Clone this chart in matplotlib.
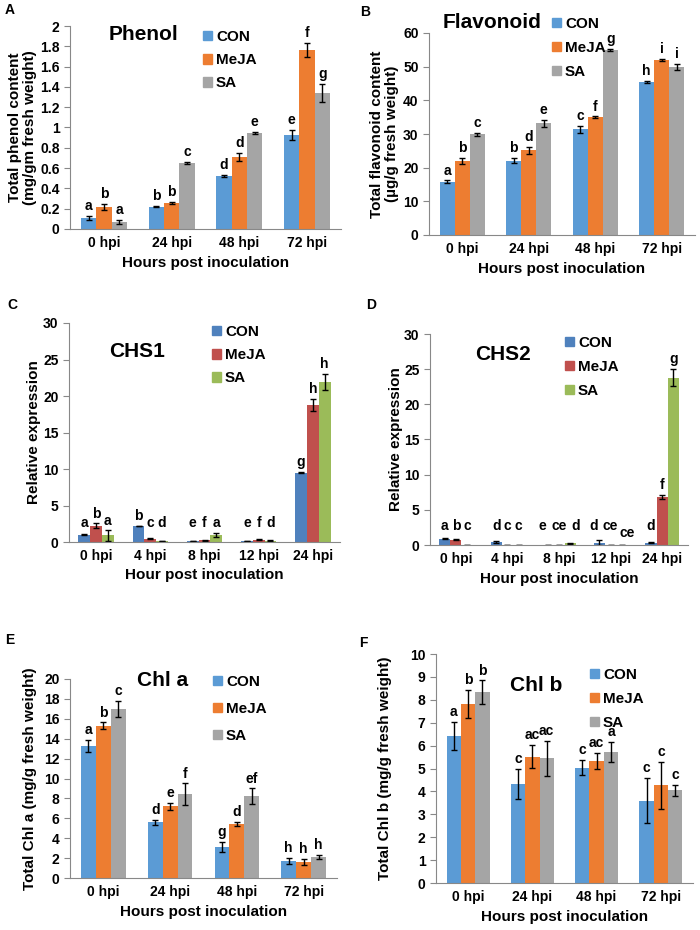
import numpy as np
import matplotlib.pyplot as plt
from matplotlib.ticker import FuncFormatter, MultipleLocator
from matplotlib.patches import Patch

plt.rcParams['font.family'] = ['Liberation Sans', 'DejaVu Sans']
plt.rcParams['font.weight'] = 'bold'

treatments = ["CON", "MeJA", "SA"]
hpi4 = ["0 hpi", "24 hpi", "48 hpi", "72 hpi"]
hpi5 = ["0 hpi", "4 hpi", "8 hpi", "12 hpi", "24 hpi"]

# A - phenol
phenol_mean = [[0.11, 0.22, 0.52, 0.93], [0.22, 0.26, 0.71, 1.76], [0.07, 0.65, 0.95, 1.34]]
phenol_err = [[0.02, 0.005, 0.01, 0.05], [0.03, 0.01, 0.04, 0.07], [0.02, 0.01, 0.01, 0.09]]
phenol_let = [["a", "b", "d", "e"], ["b", "b", "d", "f"], ["a", "c", "e", "g"]]

# B - flavonoid
flav_mean = [[15.8, 22.1, 31.4, 45.5], [22.0, 25.2, 35.0, 52.0], [29.9, 33.2, 55.0, 50.0]]
flav_err = [[0.4, 0.8, 1.1, 0.3], [0.8, 1.0, 0.2, 0.2], [0.5, 1.0, 0.2, 0.9]]
flav_let = [["a", "b", "c", "h"], ["b", "d", "f", "i"], ["c", "e", "g", "i"]]

# C - CHS1
chs1_mean = [[1.0, 2.2, 0.1, 0.1, 9.5], [2.2, 0.45, 0.25, 0.3, 18.8], [0.9, 0.15, 0.95, 0.2, 21.9]]
chs1_err = [[0.1, 0.05, 0.02, 0.02, 0.1], [0.35, 0.05, 0.05, 0.05, 0.8], [0.7, 0.03, 0.25, 0.05, 1.1]]
chs1_let = [["a", "b", "e", "e", "g"], ["b", "c", "f", "f", "h"], ["a", "d", "a", "d", "h"]]

# D - CHS2
chs2_mean = [[0.9, 0.45, 0.02, 0.35, 0.35], [0.75, 0.05, 0.05, 0.05, 6.8], [0.05, 0.05, 0.25, 0.03, 23.8]]
chs2_err = [[0.1, 0.1, 0.01, 0.3, 0.1], [0.1, 0.02, 0.02, 0.02, 0.3], [0.02, 0.02, 0.05, 0.02, 1.2]]
chs2_let = [["a", "d", "e", "d", "d"], ["b", "c", "ce", "ce", "f"], ["c", "c", "d", "ce", "g"]]

# E - Chl a
chla_mean = [[13.3, 5.6, 3.1, 1.7], [15.3, 7.2, 5.45, 1.65], [17.0, 8.4, 8.2, 2.15]]
chla_err = [[0.6, 0.25, 0.5, 0.3], [0.35, 0.35, 0.2, 0.3], [0.8, 1.1, 0.8, 0.2]]
chla_let = [["a", "d", "g", "h"], ["b", "e", "d", "h"], ["c", "f", "ef", "h"]]

# F - Chl b
chlb_mean = [[6.42, 4.33, 5.03, 3.6], [7.82, 5.52, 5.33, 4.26], [8.33, 5.44, 5.72, 4.05]]
chlb_err = [[0.6, 0.67, 0.33, 0.98], [0.62, 0.5, 0.35, 1.04], [0.52, 0.78, 0.45, 0.25]]
chlb_let = [["a", "c", "c", "c"], ["b", "ac", "ac", "c"], ["b", "ac", "a", "c"]]

office = ["#5B9BD5", "#ED7D31", "#A5A5A5"]
classic = ["#4F81BD", "#C0504D", "#9BBB59"]

W, H = 700, 930
fig = plt.figure(figsize=(7, 9.3), dpi=100)


def make_ax(left, top, right, bottom):
    # pixel box -> figure fraction
    return fig.add_axes([left / W, 1 - bottom / H, (right - left) / W, (bottom - top) / H])


def draw_panel(ax, cats, means, errs, lets, colors, ymax, step, ylabel, xlabel,
               group=0.67, floor=0.0, lab_x=-0.12, shifts=None):
    shifts = shifts or {}
    n = len(cats)
    x = np.arange(n)
    w = group / 3
    for i in range(3):
        xi = x + (i - 1) * w
        ax.bar(xi, means[i], w, yerr=errs[i], color=colors[i],
               error_kw=dict(ecolor="black", elinewidth=1, capsize=2.5, capthick=1))
        for j in range(n):
            top = max(means[i][j] + errs[i][j], floor)
            dx, dy = shifts.get((i, j), (0, 0))
            ax.annotate(lets[i][j], (xi[j], top), xytext=(dx, 2 + dy), textcoords="offset points",
                        ha="center", va="bottom", fontsize=10, fontweight="bold")
    ax.set_xlim(-0.5, n - 0.5)
    ax.set_ylim(0, ymax)
    ax.yaxis.set_major_locator(MultipleLocator(step))
    ax.yaxis.set_major_formatter(FuncFormatter(lambda v, p: "%g" % round(v, 2)))
    ax.set_xticks(x)
    ax.set_xticklabels(cats)
    for s in ["top", "right"]:
        ax.spines[s].set_visible(False)
    for s in ["left", "bottom"]:
        ax.spines[s].set_color("#888888")
    ax.tick_params(axis="x", length=0, pad=5, labelsize=10)
    ax.tick_params(axis="y", length=4, color="#888888", labelsize=10)
    ax.set_ylabel(ylabel, fontsize=11, fontweight="bold", linespacing=1.05)
    ax.yaxis.set_label_coords(lab_x, 0.5)
    ax.set_xlabel(xlabel, fontsize=11, fontweight="bold", labelpad=4)


def add_legend(ax, colors, x_px, y_px, spacing):
    handles = [Patch(color=c, label=t) for c, t in zip(colors, treatments)]
    ax.legend(handles=handles, loc="upper left", bbox_to_anchor=(x_px / W, 1 - y_px / H),
              bbox_transform=fig.transFigure, frameon=False, borderpad=0, borderaxespad=0,
              handlelength=0.6, handleheight=0.6, handletextpad=0.25, labelspacing=spacing,
              prop=dict(size=11, weight="bold"))


def add_title(txt, x_px, y_px):
    fig.text(x_px / W, 1 - y_px / H, txt, ha="center", va="center", fontsize=15, fontweight="bold")


# A
axA = make_ax(70, 26, 341, 229)
draw_panel(axA, hpi4, phenol_mean, phenol_err, phenol_let, office, 2, 0.2,
           "Total phenol content\n(mg/gm fresh weight)", "Hours post inoculation",
           group=0.68, lab_x=(37 - 70) / 271)
add_legend(axA, office, 203, 30, 0.6)
add_title("Phenol", 143, 35)

# B
axB = make_ax(429, 33, 695, 235)
draw_panel(axB, hpi4, flav_mean, flav_err, flav_let, office, 60, 10,
           "Total flavonoid content\n(\u00b5g/g fresh weight)", "Hours post inoculation",
           group=0.68, lab_x=(399 - 429) / 266)
add_legend(axB, office, 552, 17, 0.65)
add_title("Flavonoid", 492, 22)

# C
axC = make_ax(69, 323, 340, 542)
draw_panel(axC, hpi5, chs1_mean, chs1_err, chs1_let, classic, 30, 5,
           "Relative expression", "Hour post inoculation",
           group=0.65, floor=1.2, lab_x=(41 - 69) / 271)
add_legend(axC, classic, 212, 325, 0.6)
add_title("CHS1", 137, 351)

# D  (letters at 8 and 12 hpi were spread apart in the original)
d_shifts = {(0, 2): (-4, 0), (2, 2): (4, 0), (0, 3): (-4, 0), (2, 3): (4, -5)}
axD = make_ax(430, 334, 688, 545)
draw_panel(axD, hpi5, chs2_mean, chs2_err, chs2_let, classic, 30, 5,
           "Relative expression", "Hour post inoculation",
           group=0.65, floor=1.3, lab_x=(403 - 430) / 258, shifts=d_shifts)
add_legend(axD, classic, 565, 336, 0.65)
add_title("CHS2", 503, 355)

# E
axE = make_ax(70, 679, 337, 878)
draw_panel(axE, hpi4, chla_mean, chla_err, chla_let, office, 20, 2,
           "Total Chl a (mg/g fresh weight)", "Hours post inoculation",
           group=0.67, lab_x=(37 - 70) / 267)
add_legend(axE, office, 213, 675, 0.85)
add_title("Chl a", 163, 680)

# F
axF = make_ax(436, 654, 693, 883)
draw_panel(axF, hpi4, chlb_mean, chlb_err, chlb_let, office, 10, 1,
           "Total Chl b (mg/g fresh weight)", "Hours post inoculation",
           group=0.67, lab_x=(392 - 436) / 257)
add_legend(axF, office, 590, 668, 0.65)
add_title("Chl b", 536, 685)

# panel letters
for lab, xp, yp in [("A", 10, 10), ("B", 365, 12), ("C", 12, 305),
                    ("D", 371, 305), ("E", 10, 640), ("F", 363, 643)]:
    fig.text(xp / W, 1 - yp / H, lab, ha="center", va="center", fontsize=10, fontweight="bold")

fig.savefig("out.png", dpi=100)
